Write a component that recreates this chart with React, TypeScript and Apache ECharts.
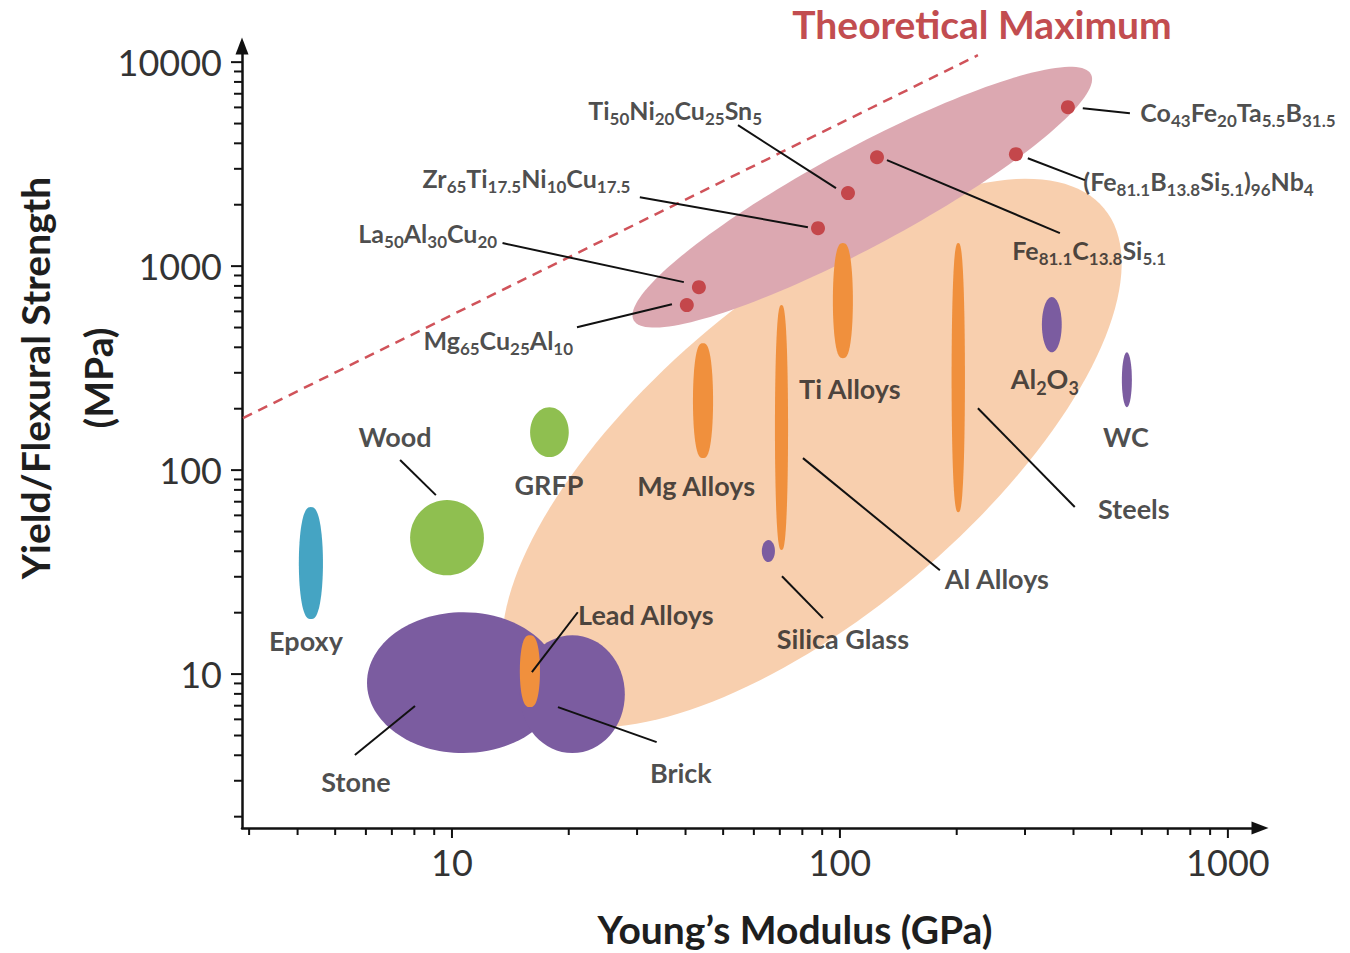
import React, { useEffect, useRef } from 'react';
import * as echarts from 'echarts';

// ---- axis extents (log scales) ----
const X_MIN = 2.876;
const X_MAX = 1210;
const Y_MIN = 1.76;
const Y_MAX = 12000;

// ---- tick labels / tick values ----
const xTickLabels = [10, 100, 1000];
const yTickLabels = [10, 100, 1000, 10000];
const xMinorTicks = [3, 4, 5, 6, 7, 8, 9, 20, 30, 40, 50, 60, 70, 80, 90, 200, 300, 400, 500, 600, 700, 800, 900];
const yMinorTicks = [2, 3, 4, 5, 6, 7, 8, 9, 20, 30, 40, 50, 60, 70, 80, 90, 200, 300, 400, 500, 600, 700, 800, 900, 2000, 3000, 4000, 5000, 6000, 7000, 8000, 9000];

// ---- material property regions (Young's modulus range GPa, strength range MPa) ----
const regionNames = ['Stone', 'Brick', 'Lead Alloys', 'Epoxy', 'Wood', 'GRFP', 'Mg Alloys', 'Al Alloys', 'Silica Glass', 'Ti Alloys', 'Steels', 'Al2O3', 'WC'];
const regionModulusRange = [[6.04, 18.97], [14.96, 27.9], [14.96, 16.86], [4.03, 4.65], [7.8, 12.09], [15.9, 20.0], [41.8, 47.1], [68.0, 73.5], [62.9, 68.0], [95.9, 108], [194, 210], [331.6, 373], [533, 565.6]];
const regionStrengthRange = [[4.1, 20.1], [4.1, 15.5], [6.89, 15.5], [18.6, 65.9], [30.5, 71.3], [115.8, 203.6], [114.5, 419], [40.6, 644], [35.4, 45.4], [354, 1297], [62.2, 1297], [378, 705], [203.6, 378]];
const regionClass = ['ceramic', 'ceramic', 'metal', 'polymer', 'natural', 'natural', 'metal', 'metal', 'ceramic', 'metal', 'metal', 'ceramic', 'ceramic'];

// ---- envelopes (major axis ends in data space, minor/major ratio) ----
const envelopeNames = ['Crystalline metals', 'Metallic glasses'];
const envelopeAxisStart = [[14.97, 7.63], [29.4, 543]];
const envelopeAxisEnd = [[479, 1924], [443.6, 8730]];
const envelopeAspect = [0.4226, 0.189];

// ---- bulk metallic glasses ----
const bmgModulus = [386.9, 284.2, 124.6, 104.9, 87.8, 43.3, 40.3];
const bmgStrength = [6015, 3540, 3420, 2280, 1535, 789, 644];
const bmgFormula = [
  [['Co', '43'], ['Fe', '20'], ['Ta', '5.5'], ['B', '31.5']],
  [['(Fe', '81.1'], ['B', '13.8'], ['Si', '5.1'], [')', '96'], ['Nb', '4']],
  [['Fe', '81.1'], ['C', '13.8'], ['Si', '5.1']],
  [['Ti', '50'], ['Ni', '20'], ['Cu', '25'], ['Sn', '5']],
  [['Zr', '65'], ['Ti', '17.5'], ['Ni', '10'], ['Cu', '17.5']],
  [['La', '50'], ['Al', '30'], ['Cu', '20']],
  [['Mg', '65'], ['Cu', '25'], ['Al', '10']],
];
// label anchors (left edge, middle) in data space
const bmgLabelAt = [[593, 5690], [422.7, 2611], [277.3, 1197], [22.4, 5816], [8.37, 2698], [5.72, 1452], [8.42, 433.6]];
const bmgLeader = [
  [422.7, 5950, 559, 5623],
  [305, 3381, 428, 2640],
  [132.2, 3308, 369, 1452],
  [54.6, 4909, 97.7, 2410],
  [30.5, 2178, 82.7, 1552],
  [13.5, 1297, 39.6, 835],
  [21.0, 502, 36.9, 651],
];

// ---- region labels ----
const regionLabelText = ['Wood', 'GRFP', 'Mg Alloys', 'Ti Alloys', 'Al2O3', 'WC', 'Steels', 'Al Alloys', 'Silica Glass', 'Lead Alloys', 'Epoxy', 'Stone', 'Brick'];
const regionLabelAt = [[7.13, 145.1], [17.78, 84.4], [42.6, 83.5], [106.1, 249.5], [337.4, 279.3], [545.8, 145.1], [572.4, 64.4], [253.9, 29.2], [101.8, 14.85], [31.6, 19.45], [4.205, 14.51], [5.655, 2.956], [38.9, 3.27]];
const regionLeader = [
  [7.35, 112, 9.09, 75.4],
  [5.62, 4.01, 8.03, 6.97],
  [18.76, 6.89, 33.7, 4.64],
  [21.1, 20.1, 16.07, 10.23],
  [70.9, 30.2, 90.4, 18.8],
  [80.3, 114.5, 181, 32.3],
  [226.8, 201, 403, 65.9],
];

// ---- theoretical maximum line ----
const theoryLine = [[2.893, 179.9], [226.8, 10815]];

// ---- styles ----
const CLASS_COLOR: Record<string, string> = {
  metal: '#f0903d',
  ceramic: '#7b5ca0',
  polymer: '#45a4c3',
  natural: '#8fbf50',
};
// outline exponent: 1 = ellipse, < 1 = pointed lens
const CLASS_SHAPE: Record<string, number> = { metal: 0.72, polymer: 0.78, ceramic: 1, natural: 1 };
const ENVELOPE_COLOR = ['#f8cfae', '#dca8b1'];
const DOT_COLOR = '#c4474b';
const TEXT_COLOR = '#1e1e1e';
const FONT = 'Lato';

const richStyles = {
  m: { fontFamily: FONT, fontWeight: 'bold', fontSize: 25, verticalAlign: 'bottom', padding: [0, 0, 5, 0], color: TEXT_COLOR },
  s: { fontFamily: FONT, fontWeight: 'bold', fontSize: 17, verticalAlign: 'bottom', color: TEXT_COLOR },
  M: { fontFamily: FONT, fontWeight: 'bold', fontSize: 27, verticalAlign: 'bottom', padding: [0, 0, 5, 0], color: TEXT_COLOR },
  S: { fontFamily: FONT, fontWeight: 'bold', fontSize: 18, verticalAlign: 'bottom', color: TEXT_COLOR },
};

function formulaRich(parts: string[][], big = false): string {
  const m = big ? 'M' : 'm';
  const s = big ? 'S' : 's';
  return parts.map(([a, b]) => `{${m}|${a}}` + (b ? `{${s}|${b}}` : '')).join('');
}

function isTick(list: number[], v: number) {
  return list.some((t) => Math.abs(t - v) / t < 1e-6);
}

function buildOption(): any {
  const regionData = regionNames.map((n, i) => ({
    name: n,
    value: [regionModulusRange[i][0], regionModulusRange[i][1], regionStrengthRange[i][0], regionStrengthRange[i][1], CLASS_SHAPE[regionClass[i]]],
    itemStyle: { color: CLASS_COLOR[regionClass[i]] },
  }));
  const envelopeData = envelopeNames.map((n, i) => ({
    name: n,
    value: [envelopeAxisStart[i][0], envelopeAxisStart[i][1], envelopeAxisEnd[i][0], envelopeAxisEnd[i][1], envelopeAspect[i]],
    itemStyle: { color: ENVELOPE_COLOR[i] },
  }));

  const labelData: any[] = [];
  bmgFormula.forEach((parts, i) => {
    labelData.push({
      value: bmgLabelAt[i],
      label: { show: true, position: 'right', distance: 0, offset: [0, 2], formatter: formulaRich(parts) },
    });
  });
  regionLabelText.forEach((t, i) => {
    const text = t === 'Al2O3' ? formulaRich([['Al', '2'], ['O', '3']], true) : `{M|${t}}`;
    labelData.push({
      value: regionLabelAt[i],
      label: { show: true, position: 'inside', offset: [0, 2], formatter: text },
    });
  });

  const leaders = [...bmgLeader, ...regionLeader].map((l) => ({ coords: [[l[0], l[1]], [l[2], l[3]]] }));

  const xTicks = [...xTickLabels, ...xMinorTicks].filter((v) => v >= X_MIN && v <= X_MAX);
  const yTicks = [...yTickLabels, ...yMinorTicks].filter((v) => v >= Y_MIN && v <= Y_MAX);

  const textEl = (text: string, x: number, y: number, font: string, fill: string, rotation = 0) => ({
    type: 'text',
    x,
    y,
    rotation,
    silent: true,
    style: {
      text,
      fill,
      font,
      textAlign: 'center',
      textVerticalAlign: 'middle',
      align: 'center',
      verticalAlign: 'middle',
    },
  });

  return {
    animation: false,
    backgroundColor: '#ffffff',
    grid: { left: 242, right: 90, top: 46, bottom: 125, containLabel: false },
    xAxis: {
      type: 'log',
      logBase: 10,
      min: X_MIN,
      max: X_MAX,
      splitLine: { show: false },
      axisTick: { show: false },
      axisLine: {
        show: true,
        symbol: ['none', 'triangle'],
        symbolSize: [13, 17],
        lineStyle: { color: '#111', width: 2.5 },
      },
      axisLabel: {
        margin: 16,
        fontSize: 36,
        fontFamily: FONT,
        color: '#333',
        formatter: (v: number) => (isTick(xTickLabels, v) ? String(Math.round(v)) : ''),
      },
    },
    yAxis: {
      type: 'log',
      logBase: 10,
      min: Y_MIN,
      max: Y_MAX,
      splitLine: { show: false },
      axisTick: { show: false },
      axisLine: {
        show: true,
        symbol: ['none', 'triangle'],
        symbolSize: [13, 17],
        lineStyle: { color: '#111', width: 2.5 },
      },
      axisLabel: {
        margin: 20,
        fontSize: 36,
        fontFamily: FONT,
        color: '#333',
        formatter: (v: number) => (isTick(yTickLabels, v) ? String(Math.round(v)) : ''),
      },
    },
    graphic: [
      textEl('Theoretical Maximum', 982, 24, `bold 39px ${FONT}`, '#c24d50'),
      textEl('Young’s Modulus (GPa)', 795, 929, `bold 39px ${FONT}`, TEXT_COLOR),
      textEl('Yield/Flexural Strength', 35, 378, `bold 39px ${FONT}`, TEXT_COLOR, Math.PI / 2),
      textEl('(MPa)', 98, 378, `bold 39px ${FONT}`, TEXT_COLOR, Math.PI / 2),
    ],
    series: [
      {
        type: 'custom',
        name: 'envelopes',
        coordinateSystem: 'cartesian2d',
        silent: true,
        clip: false,
        encode: { x: [0, 2], y: [1, 3] },
        data: envelopeData,
        renderItem: (params: any, api: any) => {
          const a = api.coord([api.value(0), api.value(1)]);
          const b = api.coord([api.value(2), api.value(3)]);
          const r = api.value(4);
          const cx = (a[0] + b[0]) / 2;
          const cy = (a[1] + b[1]) / 2;
          const dx = (b[0] - a[0]) / 2;
          const dy = (b[1] - a[1]) / 2;
          const L = Math.hypot(dx, dy);
          const ux = dx / L;
          const uy = dy / L;
          const B = L * r;
          const pts: number[][] = [];
          for (let i = 0; i < 160; i++) {
            const t = (i / 160) * Math.PI * 2;
            const c = Math.cos(t) * L;
            const s = Math.sin(t) * B;
            pts.push([cx + c * ux - s * uy, cy + c * uy + s * ux]);
          }
          return { type: 'polygon', shape: { points: pts }, style: { fill: api.visual('color') } };
        },
      },
      {
        type: 'custom',
        name: 'regions',
        coordinateSystem: 'cartesian2d',
        silent: true,
        clip: false,
        encode: { x: [0, 1], y: [2, 3] },
        data: regionData,
        renderItem: (params: any, api: any) => {
          const p1 = api.coord([api.value(0), api.value(2)]);
          const p2 = api.coord([api.value(1), api.value(3)]);
          const k = api.value(4);
          const cx = (p1[0] + p2[0]) / 2;
          const cy = (p1[1] + p2[1]) / 2;
          const rx = Math.abs(p2[0] - p1[0]) / 2;
          const ry = Math.abs(p2[1] - p1[1]) / 2;
          if (k >= 1) {
            return { type: 'ellipse', shape: { cx, cy, rx, ry }, style: { fill: api.visual('color') } };
          }
          const pts: number[][] = [];
          const N = 120;
          for (let i = 0; i < N; i++) {
            const t = (i / N) * Math.PI * 2;
            const sy = Math.sin(t);
            const cosT = Math.cos(t);
            // width profile shrinks faster towards the poles -> pointed lens
            const w = Math.pow(Math.abs(cosT), k) * Math.sign(cosT);
            pts.push([cx + rx * w, cy - ry * sy]);
          }
          return { type: 'polygon', shape: { points: pts }, style: { fill: api.visual('color') } };
        },
      },
      {
        type: 'line',
        name: 'Theoretical Maximum',
        data: theoryLine,
        symbol: 'none',
        silent: true,
        lineStyle: { color: '#d0535a', width: 2.5, type: [10, 7] },
      },
      {
        type: 'lines',
        coordinateSystem: 'cartesian2d',
        silent: true,
        data: leaders,
        lineStyle: { color: '#111', width: 2, opacity: 1 },
        z: 4,
      },
      {
        type: 'scatter',
        name: 'Metallic glasses',
        data: bmgModulus.map((x, i) => [x, bmgStrength[i]]),
        symbolSize: 14,
        silent: true,
        itemStyle: { color: DOT_COLOR, opacity: 1 },
        z: 5,
      },
      {
        type: 'scatter',
        name: 'labels',
        data: labelData,
        symbolSize: 1,
        silent: true,
        itemStyle: { color: 'rgba(0,0,0,0)' },
        label: { show: true, color: TEXT_COLOR, fontFamily: FONT, fontWeight: 'bold', rich: richStyles },
        z: 6,
      },
      {
        type: 'custom',
        name: 'xTicks',
        coordinateSystem: 'cartesian2d',
        silent: true,
        clip: false,
        encode: { x: 0, y: 1 },
        data: xTicks.map((v) => [v, Y_MIN]),
        renderItem: (params: any, api: any) => {
          const v = api.value(0);
          const p = api.coord([v, Y_MIN]);
          const len = isTick(xTickLabels, v) ? 10 : 7;
          return { type: 'line', shape: { x1: p[0], y1: p[1], x2: p[0], y2: p[1] + len }, style: { stroke: '#111', lineWidth: 2 } };
        },
      },
      {
        type: 'custom',
        name: 'yTicks',
        coordinateSystem: 'cartesian2d',
        silent: true,
        clip: false,
        encode: { x: 0, y: 1 },
        data: yTicks.map((v) => [X_MIN, v]),
        renderItem: (params: any, api: any) => {
          const v = api.value(1);
          const p = api.coord([X_MIN, v]);
          const len = isTick(yTickLabels, v) ? 11 : 8;
          return { type: 'line', shape: { x1: p[0], y1: p[1], x2: p[0] - len, y2: p[1] }, style: { stroke: '#111', lineWidth: 2 } };
        },
      },
    ],
  };
}

export default function App() {
  const ref = useRef<HTMLDivElement>(null);
  useEffect(() => {
    if (!ref.current) return;
    const chart = echarts.init(ref.current, null, { renderer: 'svg' });
    chart.setOption(buildOption());
    return () => chart.dispose();
  }, []);
  return <div ref={ref} style={{ position: 'absolute', left: 0, top: 0, width: 1350, height: 953 }} />;
}
